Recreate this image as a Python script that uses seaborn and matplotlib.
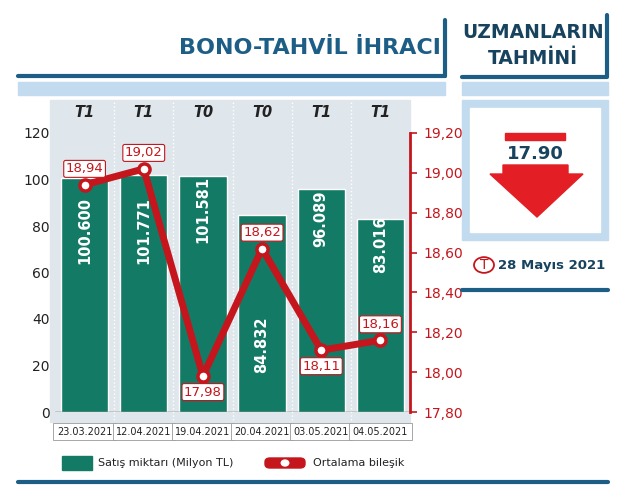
import matplotlib
matplotlib.use("Agg")
import matplotlib.pyplot as plt
import matplotlib.patches as mp
import seaborn as sns
import numpy as np
import pandas as pd

dates = ["23.03.2021", "12.04.2021", "19.04.2021", "20.04.2021", "03.05.2021", "04.05.2021"]
terms = ["T1", "T1", "T0", "T0", "T1", "T1"]
sales = [100.600, 101.771, 101.581, 84.832, 96.089, 83.016]
sales_labels = ["100.600", "101.771", "101.581", "84.832", "96.089", "83.016"]
label_y = [78, 78, 87, 29, 83, 72]
rate = [18.94, 19.02, 17.98, 18.62, 18.11, 18.16]
rate_labels = ["18,94", "19,02", "17,98", "18,62", "18,11", "18,16"]
left_ticks = [0, 20, 40, 60, 80, 100, 120]
right_ticks = [17.80, 18.00, 18.20, 18.40, 18.60, 18.80, 19.00, 19.20]

GREEN = "#137a66"; RED = "#c4161c"; BLUE = "#1d5e86"; NAVY = "#17435f"
BG = "#dfe7ec"; LBLUE = "#c2dbee"

sns.set_theme(style="white")
plt.rcParams['font.family'] = ['DejaVu Sans']
fig = plt.figure(figsize=(6.24, 4.92), dpi=100)
W, H = 624, 492
def fx(x): return x / W
def fy(y): return 1 - y / H

fig.patches.append(mp.Rectangle((fx(50), fy(422)), fx(360), fy(100) - fy(422), transform=fig.transFigure, color=BG, zorder=-5))
fig.text(fx(310), fy(48), "BONO-TAHVİL İHRACI", ha="center", va="center", fontsize=16, color=BLUE, fontweight="bold")
fig.add_artist(plt.Line2D([fx(18), fx(445)], [fy(76), fy(76)], transform=fig.transFigure, color=BLUE, lw=3))
fig.add_artist(plt.Line2D([fx(445), fx(445)], [fy(76), fy(20)], transform=fig.transFigure, color=BLUE, lw=3))
fig.patches.append(mp.Rectangle((fx(18), fy(95)), fx(427), fy(82) - fy(95), transform=fig.transFigure, color=LBLUE, zorder=-5))
fig.text(fx(533), fy(32), "UZMANLARIN", ha="center", va="center", fontsize=13.5, color=NAVY, fontweight="bold")
fig.text(fx(533), fy(58), "TAHMİNİ", ha="center", va="center", fontsize=13.5, color=NAVY, fontweight="bold")
fig.add_artist(plt.Line2D([fx(462), fx(607), fx(607)], [fy(77), fy(77), fy(15)], transform=fig.transFigure, color=BLUE, lw=3))
fig.patches.append(mp.Rectangle((fx(462), fy(95)), fx(146), fy(82) - fy(95), transform=fig.transFigure, color=LBLUE, zorder=-5))
fig.patches.append(mp.Rectangle((fx(462), fy(240)), fx(146), fy(100) - fy(240), transform=fig.transFigure, color=LBLUE, zorder=-5))
fig.patches.append(mp.Rectangle((fx(470), fy(232)), fx(130), fy(108) - fy(232), transform=fig.transFigure, color="white", zorder=-4))
fig.patches.append(mp.Rectangle((fx(505), fy(140)), fx(60), fy(133) - fy(140), transform=fig.transFigure, color="#e31e24"))
fig.text(fx(535), fy(154), "17.90", ha="center", va="center", fontsize=13, color=NAVY, fontweight="bold")
fig.patches.append(mp.Polygon([(fx(503), fy(165)), (fx(568), fy(165)), (fx(568), fy(174)), (fx(583), fy(174)),
                               (fx(537), fy(217)), (fx(490), fy(174)), (fx(503), fy(174))], closed=True,
                              transform=fig.transFigure, color="#e31e24"))
fig.patches.append(mp.Circle((fx(484), fy(265)), 0.016, transform=fig.transFigure, fill=False, ec=RED, lw=1.3))
fig.text(fx(484), fy(265), "T", ha="center", va="center", fontsize=10, color=RED)
fig.text(fx(498), fy(265), "28 Mayıs 2021", ha="left", va="center", fontsize=9.5, color=NAVY, fontweight="bold")
fig.add_artist(plt.Line2D([fx(462), fx(608)], [fy(290), fy(290)], transform=fig.transFigure, color=BLUE, lw=3))
fig.add_artist(plt.Line2D([fx(18), fx(608)], [fy(482), fy(482)], transform=fig.transFigure, color=BLUE, lw=3))

ax = fig.add_axes([fx(55), fy(412), fx(355), fy(133) - fy(412)])
ax.set_facecolor("none")
df = pd.DataFrame({"date": dates, "sales": sales})
sns.barplot(data=df, x="date", y="sales", color=GREEN, saturation=1, width=0.8, ax=ax)
ax.set_ylim(0, 120); ax.set_xlim(-0.5, 5.5)
ax.set_yticks(left_ticks)
ax.tick_params(axis="y", labelsize=10, colors="#222", length=0, pad=4)
ax.set_xticks([]); ax.set_xlabel(""); ax.set_ylabel("")
for s in ax.spines.values(): s.set_visible(False)
ax.axhline(0, color="#444", lw=1)
for i in range(1, 6):
    ax.axvline(i - 0.5, color="white", lw=1, ls=":", zorder=0, ymin=-0.03, ymax=1.12, clip_on=False)
for i, (lab, yy) in enumerate(zip(sales_labels, label_y)):
    ax.text(i, yy, lab, rotation=90, ha="center", va="center", color="white", fontsize=10.5, fontweight="bold")
for i, t in enumerate(terms):
    ax.text(i, 1.075, t, transform=ax.get_xaxis_transform(), ha="center", va="center", fontsize=10.5, style="italic", fontweight="bold", color="#222")
    ax.text(i, -0.07, dates[i], transform=ax.get_xaxis_transform(), ha="center", va="center", fontsize=7, color="#222",
            bbox=dict(boxstyle="square,pad=0.35", fc="white", ec="#999", lw=0.6))

ax2 = ax.twinx()
sns.lineplot(x=np.arange(len(rate)), y=rate, color=RED, lw=5, ax=ax2, marker="o", markersize=8,
             markerfacecolor="white", markeredgecolor=RED, markeredgewidth=2.5)
ax2.set_ylim(17.80, 19.20); ax2.set_xlim(-0.5, 5.5)
ax2.set_yticks(right_ticks)
ax2.set_yticklabels([f"{v:.2f}".replace(".", ",") for v in right_ticks])
ax2.tick_params(axis="y", labelsize=10, colors=RED, length=5, direction="out", width=1.2, pad=5)
for s in ax2.spines.values(): s.set_visible(False)
ax2.spines["right"].set_visible(True); ax2.spines["right"].set_color(RED); ax2.spines["right"].set_linewidth(2)
offs = [0.08, 0.08, -0.08, 0.08, -0.08, 0.08]
for i, (v, lab) in enumerate(zip(rate, rate_labels)):
    ax2.text(i, v + offs[i], lab, ha="center", va="center", fontsize=9.5, color=RED,
             bbox=dict(boxstyle="round,pad=0.15", fc="white", ec=RED, lw=0.8))

fig.patches.append(mp.Rectangle((fx(62), fy(470)), fx(30), fy(456) - fy(470), transform=fig.transFigure, color=GREEN))
fig.text(fx(98), fy(463), "Satış miktarı (Milyon TL)", va="center", fontsize=8, color="#222")
fig.patches.append(mp.FancyBboxPatch((fx(265), fy(468)), fx(40), fy(458) - fy(468), boxstyle="round,pad=0,rounding_size=0.008",
                                     transform=fig.transFigure, color=RED))
fig.patches.append(mp.Circle((fx(285), fy(463)), 0.006, transform=fig.transFigure, color="white"))
fig.text(fx(313), fy(463), "Ortalama bileşik", va="center", fontsize=8, color="#222")

fig.savefig("out.png", dpi=100)
